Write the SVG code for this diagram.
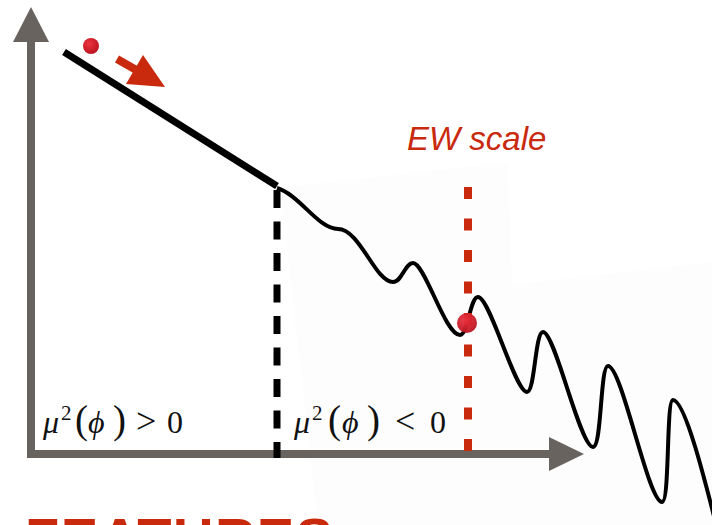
<svg xmlns="http://www.w3.org/2000/svg" width="712" height="525" viewBox="0 0 712 525">
<style>
.axis{stroke:#68635f;stroke-width:8;fill:none}
.axhead{fill:#68635f}
.math{font-family:"Liberation Serif","DejaVu Serif",serif;font-size:32px;fill:#111}
.it{font-style:italic}
.sup{font-size:21px}
.par{font-size:39px}
.rel{font-size:36px}
.red{fill:#c9290c}
</style>
<defs>
<radialGradient id="ballg" cx="0.4" cy="0.35" r="0.7">
<stop offset="0" stop-color="#ec3340"/>
<stop offset="1" stop-color="#b9111f"/>
</radialGradient>
</defs>
<rect width="712" height="525" fill="#ffffff"/>
<polygon points="280,188 508,162 512,285 712,262 712,525 318,525" fill="#fdfdfd"/>
<g id="axes">
<line class="axis" x1="31" y1="458" x2="31" y2="38"/>
<polygon class="axhead" points="31,7 13,42 49,42"/>
<line class="axis" x1="27" y1="454" x2="552" y2="454"/>
<polygon class="axhead" points="584,454 549,437 549,471"/>
</g>
<g id="connectors">
<line x1="64" y1="52" x2="277" y2="186" stroke="#000" stroke-width="7"/>
<path d="M277,188 C300,195 318,229 338,229 C360,229 375,282 393,282 C402,282 405,263 413,263 C425,263 445,335 460,335 C468,335 470,297 478,297 C490,297 515,392 527,392 C535,392 535,332 543,332 C555,332 580,447 593,447 C602,447 600,366 608,366 C622,366 648,502 662,502 C670,502 666,400 673,400 C685,400 705,480 720,540" fill="none" stroke="#000" stroke-width="4"/>
<line x1="277" y1="190" x2="277" y2="458" stroke="#000" stroke-width="7" stroke-dasharray="18 13.5"/>
<line x1="468" y1="187" x2="468" y2="456" stroke="#c9290c" stroke-width="8" stroke-dasharray="12 19.5"/>
<line x1="117" y1="59" x2="138" y2="71" stroke="#c9290c" stroke-width="8"/>
<polygon class="red" points="165,87 143,55 126,84"/>
</g>
<g id="ball-top"><circle cx="91" cy="46" r="8" fill="url(#ballg)"/></g>
<g id="ball-ew"><circle cx="467" cy="323" r="10" fill="url(#ballg)" opacity="0.95"/></g>
<g id="label-ew"><text x="407" y="150" font-family="'Liberation Sans',Arial,sans-serif" font-style="italic" font-size="33" class="red">EW scale</text></g>
<g id="label-pos"><text class="math" y="433"><tspan class="it" x="43">μ</tspan><tspan class="sup" x="61" y="420">2</tspan><tspan class="par" x="75" y="433">(</tspan><tspan class="it" x="88">ϕ</tspan><tspan class="par" x="113">)</tspan><tspan class="rel" x="136">&gt;</tspan><tspan x="167">0</tspan></text></g>
<g id="label-neg"><text class="math" y="433"><tspan class="it" x="294">μ</tspan><tspan class="sup" x="312" y="420">2</tspan><tspan class="par" x="328" y="433">(</tspan><tspan class="it" x="342">ϕ</tspan><tspan class="par" x="367">)</tspan><tspan class="rel" x="395">&lt;</tspan><tspan x="430">0</tspan></text></g>
<g id="title"><text x="25" y="557" font-family="'Liberation Sans',Arial,sans-serif" font-weight="bold" font-size="56" textLength="308" lengthAdjust="spacing" class="red">FEATURES</text></g>
</svg>
